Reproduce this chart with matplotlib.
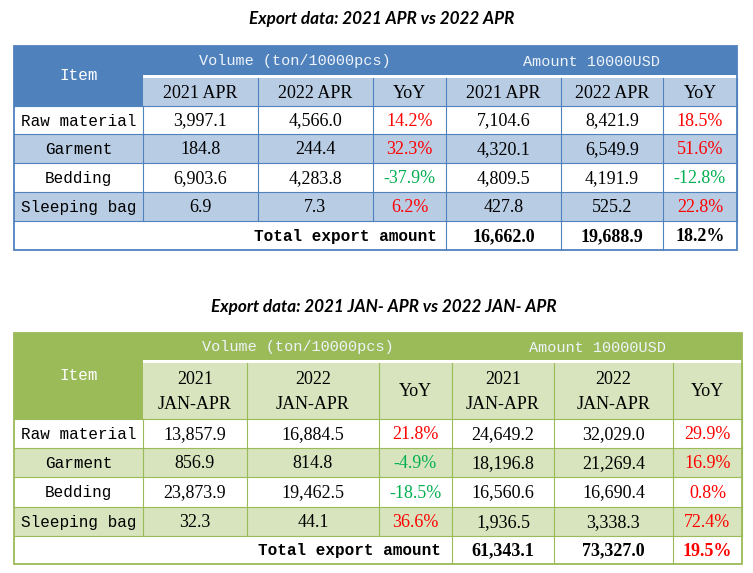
import matplotlib
matplotlib.use("Agg")
import matplotlib.pyplot as plt
from matplotlib.patches import Rectangle

# ---- data ----
items = ["Raw material", "Garment", "Bedding", "Sleeping bag"]

apr_periods = ["2021 APR", "2022 APR"]
apr_vol_2021 = [3997.1, 184.8, 6903.6, 6.9]
apr_vol_2022 = [4566.0, 244.4, 4283.8, 7.3]
apr_vol_yoy = [14.2, 32.3, -37.9, 6.2]
apr_amt_2021 = [7104.6, 4320.1, 4809.5, 427.8]
apr_amt_2022 = [8421.9, 6549.9, 4191.9, 525.2]
apr_amt_yoy = [18.5, 51.6, -12.8, 22.8]
apr_total = [16662.0, 19688.9, 18.2]

ytd_periods = ["2021\nJAN-APR", "2022\nJAN-APR"]
ytd_vol_2021 = [13857.9, 856.9, 23873.9, 32.3]
ytd_vol_2022 = [16884.5, 814.8, 19462.5, 44.1]
ytd_vol_yoy = [21.8, -4.9, -18.5, 36.6]
ytd_amt_2021 = [24649.2, 18196.8, 16560.6, 1936.5]
ytd_amt_2022 = [32029.0, 21269.4, 16690.4, 3338.3]
ytd_amt_yoy = [29.9, 16.9, 0.8, 72.4]
ytd_total = [61343.1, 73327.0, 19.5]

W, H = 753, 573
MONO = "Liberation Mono"
SERIF = "Liberation Serif"
RED = "#FF0000"
GREEN = "#00B050"


def fmt_num(v):
    return "{:,.1f}".format(v)


def fmt_pct(v):
    return "{:.1f}%".format(v)


def pct_color(v):
    return GREEN if v < 0 else RED


def draw_table(ax, title, title_y, cols, rows, periods, columns, total,
               dark, light, line, total_yoy_color, total_pad):
    ax.text((cols[0] + cols[-1]) / 2 + 6, title_y, title, ha="center", va="center",
            fontsize=12.3, fontweight="bold", style="italic", family=["Lato", "DejaVu Sans"])
    gap = 3
    # header backgrounds
    ax.add_patch(Rectangle((cols[0], rows[0]), cols[1] - cols[0], rows[2] - rows[0],
                           facecolor=dark, edgecolor="none"))
    ax.add_patch(Rectangle((cols[1], rows[0]), cols[7] - cols[1], rows[1] - rows[0],
                           facecolor=dark, edgecolor="none"))
    for i in range(1, 7):
        ax.add_patch(Rectangle((cols[i], rows[1] + gap), cols[i + 1] - cols[i],
                               rows[2] - rows[1] - gap, facecolor=light, edgecolor="none"))
    ax.text((cols[0] + cols[1]) / 2, (rows[0] + rows[2]) / 2, "Item", ha="center",
            va="center", color="white", fontsize=11.5, family=MONO)
    ax.text((cols[1] + cols[4]) / 2, (rows[0] + rows[1]) / 2 + 1, "Volume (ton/10000pcs)",
            ha="center", va="center", color="#EEF3FA", fontsize=11, family=MONO)
    ax.text((cols[4] + cols[7]) / 2, (rows[0] + rows[1]) / 2 + 1, "Amount 10000USD",
            ha="center", va="center", color="#EEF3FA", fontsize=11, family=MONO)
    subheads = [periods[0], periods[1], "YoY", periods[0], periods[1], "YoY"]
    for i, s in enumerate(subheads):
        ax.text((cols[i + 1] + cols[i + 2]) / 2, (rows[1] + gap + rows[2]) / 2 + 1, s,
                ha="center", va="center", fontsize=13, family=SERIF, linespacing=1.55)

    # data rows
    for r, name in enumerate(items):
        y0, y1 = rows[2 + r], rows[3 + r]
        if r % 2 == 1:
            ax.add_patch(Rectangle((cols[0], y0), cols[-1] - cols[0], y1 - y0,
                                   facecolor=light, edgecolor="none"))
        yc = (y0 + y1) / 2 + 1
        ax.text((cols[0] + cols[1]) / 2, yc, name, ha="center", va="center",
                fontsize=11.5, family=MONO)
        for c, col in enumerate(columns):
            v = col[r]
            if c in (2, 5):
                txt, color = fmt_pct(v), pct_color(v)
            else:
                txt, color = fmt_num(v), "black"
            ax.text((cols[c + 1] + cols[c + 2]) / 2, yc, txt, ha="center",
                    va="center", fontsize=13, family=SERIF, color=color)

    # total row
    y0, y1 = rows[6], rows[7]
    yc = (y0 + y1) / 2 + 1
    ax.text(cols[4] - total_pad, yc, "Total export amount", ha="right", va="center",
            fontsize=11.5, family=MONO, fontweight="bold")
    tot_txt = [fmt_num(total[0]), fmt_num(total[1]), fmt_pct(total[2])]
    tot_col = ["black", "black", total_yoy_color]
    for k in range(3):
        ax.text((cols[4 + k] + cols[5 + k]) / 2, yc, tot_txt[k], ha="center",
                va="center", fontsize=13, family=SERIF, fontweight="bold",
                color=tot_col[k])

    # grid lines
    lw = 0.8
    for yy in rows[2:7]:
        ax.plot([cols[0], cols[-1]], [yy, yy], color=line, lw=lw)
    for i in range(1, 7):
        ax.plot([cols[i + 1], cols[i + 1]], [rows[1] + gap, rows[6]], color=line, lw=lw)
    ax.plot([cols[1], cols[1]], [rows[2], rows[6]], color=line, lw=lw)
    for i in (4, 5, 6):
        ax.plot([cols[i], cols[i]], [rows[6], rows[7]], color=line, lw=lw)
    ax.add_patch(Rectangle((cols[0], rows[0]), cols[-1] - cols[0], rows[-1] - rows[0],
                           facecolor="none", edgecolor=line, lw=1.3))


fig = plt.figure(figsize=(W / 100, H / 100), dpi=100)
ax = fig.add_axes([0, 0, 1, 1])
ax.set_xlim(0, W)
ax.set_ylim(H, 0)
ax.axis("off")

draw_table(ax, "Export data: 2021 APR vs 2022 APR", 19,
           [14, 143, 258, 373, 446, 561, 663, 737],
           [46, 75, 106, 134, 163, 192, 221, 250],
           apr_periods,
           [apr_vol_2021, apr_vol_2022, apr_vol_yoy, apr_amt_2021, apr_amt_2022, apr_amt_yoy],
           apr_total, "#4F81BD", "#B8CCE4", "#4F81BD", "black", 9)

draw_table(ax, "Export data: 2021 JAN- APR vs 2022 JAN- APR", 307,
           [14, 143, 247, 379, 452, 554, 673, 742],
           [333, 360, 419, 448, 477, 507, 536, 564],
           ytd_periods,
           [ytd_vol_2021, ytd_vol_2022, ytd_vol_yoy, ytd_amt_2021, ytd_amt_2022, ytd_amt_yoy],
           ytd_total, "#9BBB59", "#D7E4BD", "#9BBB59", RED, 11)

fig.savefig("out.png", dpi=100)
